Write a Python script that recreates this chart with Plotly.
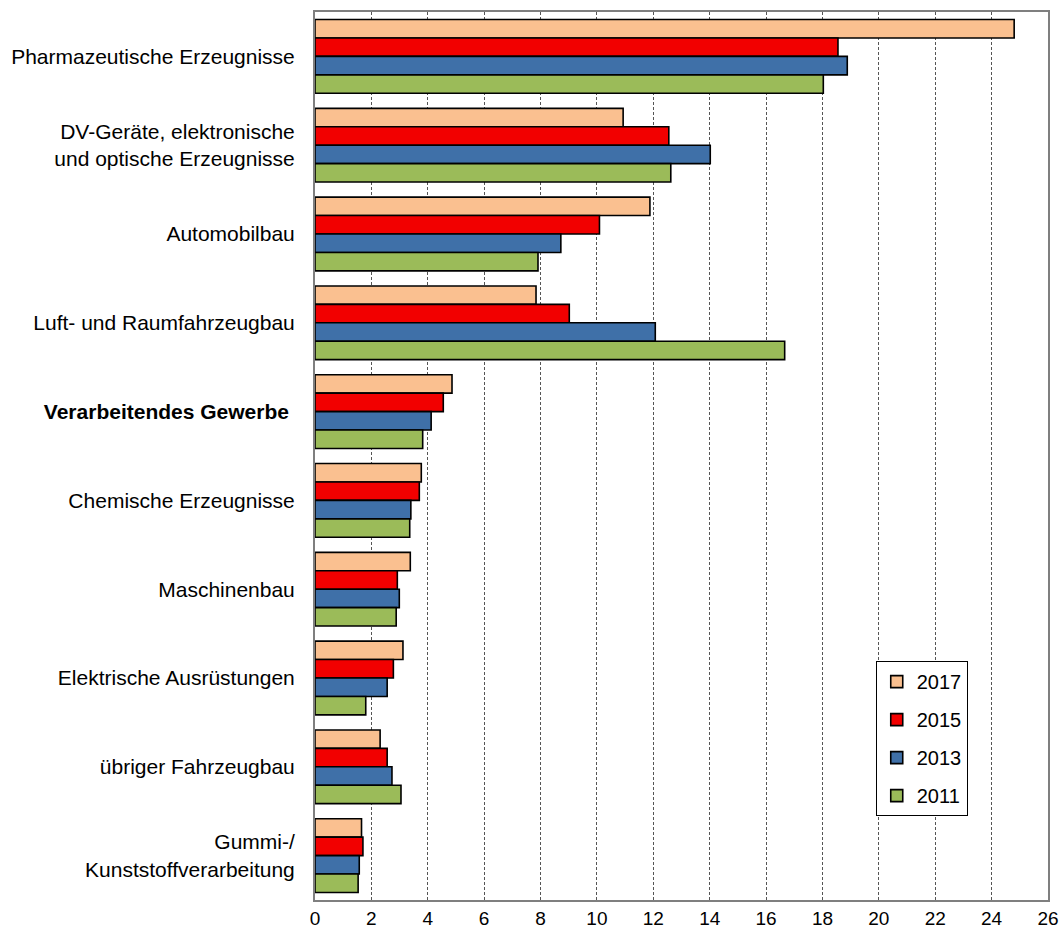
import plotly.graph_objects as go

categories = [
    "Pharmazeutische Erzeugnisse",
    "DV-Geräte, elektronische<br>und optische Erzeugnisse",
    "Automobilbau",
    "Luft- und Raumfahrzeugbau",
    "<b>Verarbeitendes Gewerbe</b>\u00a0",
    "Chemische Erzeugnisse",
    "Maschinenbau",
    "Elektrische Ausrüstungen",
    "übriger Fahrzeugbau",
    "Gummi-/<br>Kunststoffverarbeitung",
]

v2017 = [24.8, 10.93, 11.88, 7.84, 4.86, 3.77, 3.38, 3.12, 2.31, 1.65]
v2015 = [18.55, 12.55, 10.09, 9.02, 4.55, 3.70, 2.92, 2.78, 2.56, 1.70]
v2013 = [18.88, 14.02, 8.72, 12.07, 4.12, 3.40, 2.99, 2.56, 2.73, 1.57]
v2011 = [18.03, 12.62, 7.91, 16.66, 3.82, 3.36, 2.88, 1.80, 3.05, 1.53]

series = [
    ("2017", v2017, "#FAC090"),
    ("2015", v2015, "#F20000"),
    ("2013", v2013, "#3F70A8"),
    ("2011", v2011, "#9BBB59"),
]

x_ticks = list(range(0, 27, 2))

fig = go.Figure()
for name, vals, color in series:
    fig.add_trace(go.Bar(
        name=name, y=categories, x=vals, orientation="h",
        marker=dict(color=color, line=dict(color="#000000", width=1.6)),
        legendgroup=name,
    ))

font_family = "Arial, Liberation Sans, sans-serif"

fig.update_layout(
    width=1062, height=936,
    margin=dict(l=315, r=14, t=12, b=36, autoexpand=False),
    paper_bgcolor="white", plot_bgcolor="white",
    barmode="group", bargap=0.17, bargroupgap=0,
    font=dict(family=font_family, color="#000000"),
    showlegend=True,
    legend=dict(
        x=0.765, y=0.269, xanchor="left", yanchor="top",
        bordercolor="#000000", borderwidth=1, bgcolor="white",
        font=dict(size=20, family=font_family),
        traceorder="grouped", tracegroupgap=9,
        itemwidth=30,
    ),
)

fig.update_xaxes(
    range=[0, 26], tickvals=x_ticks, ticktext=[str(t) for t in x_ticks],
    showgrid=True, gridcolor="#555555", gridwidth=1, griddash="3px,2px",
    showline=True, mirror=True, linecolor="#7f7f7f", linewidth=2,
    ticks="", tickfont=dict(size=19, family=font_family),
    zeroline=False, fixedrange=True, automargin=False,
)
fig.update_yaxes(
    autorange="reversed", type="category",
    showgrid=False, showline=True, mirror=True, linecolor="#7f7f7f", linewidth=2,
    ticks="", ticklabelstandoff=14, tickfont=dict(size=21, family=font_family),
    fixedrange=True, automargin=False,
)

fig.write_html(
    "out.html",
    config={"displayModeBar": False, "staticPlot": False},
    post_script="document.body.style.margin='0px';document.body.style.overflow='hidden';",
)
